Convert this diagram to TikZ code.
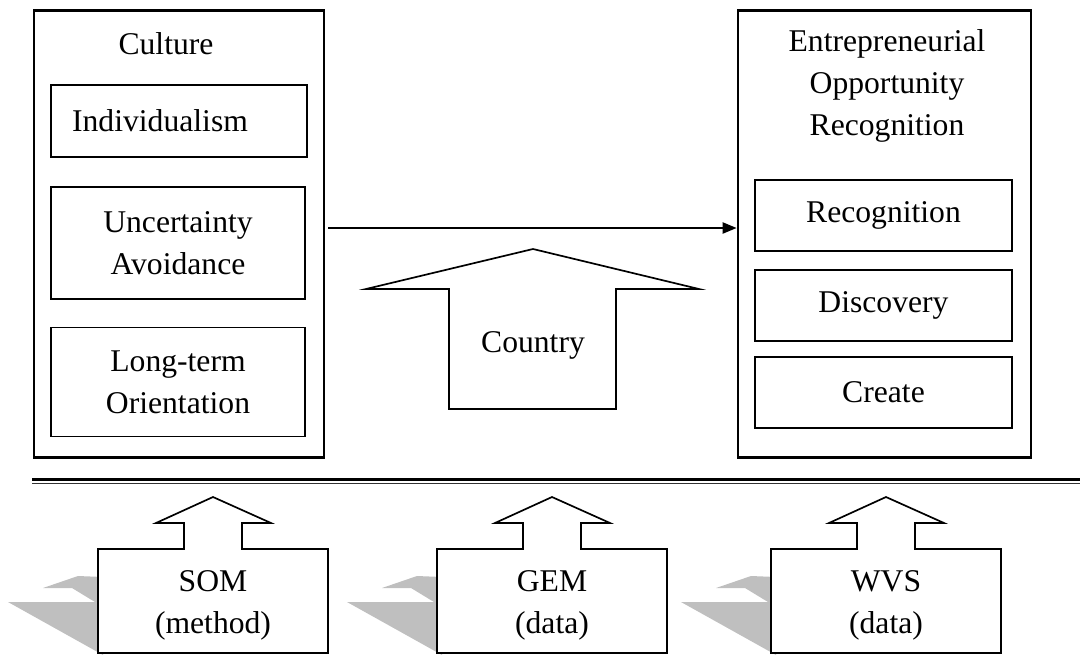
\documentclass[tikz,border=0pt]{standalone}
\usepackage{fontspec}
\setmainfont{Liberation Serif}
\usetikzlibrary{arrows.meta}
\newcommand{\pxlen}{0.025cm}
\tikzset{
  boxsize/.style 2 args={minimum width=#1*\pxlen, minimum height=#2*\pxlen},
  outerbox/.style={draw, line width=2pt, inner sep=0pt},
  innerbox/.style={draw, line width=1.2pt, inner sep=0pt, align=center},
  blockarrow/.style={draw, fill=white, line width=1.2pt, line join=miter},
  shadowgray/.style={fill=gray!50},
  flow/.style={-{Triangle[length=10pt,width=8pt]}, line width=1.2pt}
}
\begin{document}
\begin{tikzpicture}[x=0.025cm, y=-0.025cm, font=\fontsize{22.5pt}{30pt}\selectfont]
    \useasboundingbox (0,0) rectangle (1080,654);
    \node[outerbox, boxsize={290}{447}] (culture) at (179,234) {};
    \node (culturelbl) at (166,44) {Culture};
    \node[innerbox, boxsize={256}{72}] (indiv) at (179,121) {Individualism\hspace{27pt}};
    \node[innerbox, boxsize={254}{112}] (uncert) at (178,243) {Uncertainty\\Avoidance};
    \node[innerbox, boxsize={254}{109}] (longterm) at (178,382) {Long-term\\Orientation};

    \node[outerbox, boxsize={293}{447}] (opp) at (884.5,234) {};
    \node[align=center] (opplbl) at (887,86) {Entrepreneurial\\Opportunity\\Recognition};
    \node[innerbox, boxsize={257}{71}] (recog) at (883.5,215.5) {Recognition};
    \node[innerbox, boxsize={257}{71}] (disc) at (883.5,305.5) {Discovery};
    \node[innerbox, boxsize={257}{71}] (create) at (883.5,392.5) {Create};

    \coordinate (arrowy) at (0,228);
    \draw[flow] ([xshift=3*\pxlen]culture.east |- arrowy) -- (opp.west |- arrowy);

    \draw[blockarrow] (449,409) -- (449,289) -- (366,289) -- (533,249) -- (699,289) -- (616,289) -- (616,409) -- cycle;
    \node (country) at (533,345) {Country};

    \draw[line width=2pt] (32,479.5) -- (1080,479.5);
    \draw[line width=0.9pt, black!80] (32,483.5) -- (1080,483.5);

    \foreach \x/\name/\sub in {98/SOM/method, 437/GEM/data, 771/WVS/data}{
        \fill[shadowgray] (\x-55,588) -- (\x-20,576) -- (\x+5,577) -- (\x+5,655) -- (\x-90,602) -- (\x-3,602) -- (\x-26,588) -- cycle;
        \draw[blockarrow] (\x,653) -- (\x,549) -- (\x+86,549) -- (\x+86,523) -- (\x+58,523) -- (\x+115,497) -- (\x+173,523) -- (\x+144,523) -- (\x+144,549) -- (\x+230,549) -- (\x+230,653) -- cycle;
        \node[align=center] (src\name) at (\x+115,605) {\name\\(\sub)};
    }
\end{tikzpicture}
\end{document}
